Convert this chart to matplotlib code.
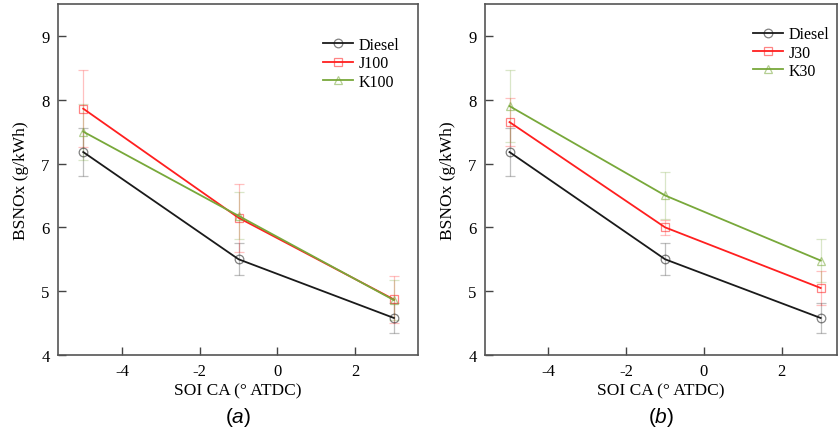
import matplotlib
matplotlib.use("Agg")
import matplotlib.pyplot as plt
import numpy as np
from matplotlib.colors import to_rgba

plt.rcParams['mathtext.fontset'] = 'custom'
plt.rcParams['mathtext.it'] = 'Liberation Sans:italic'
plt.rcParams['mathtext.rm'] = 'Liberation Sans'

soi = [-5, -1, 3]

# Panel (a)
diesel = [7.18, 5.50, 4.58]
diesel_err = [0.37, 0.25, 0.23]
j100 = [7.86, 6.15, 4.87]
j100_err = [0.60, 0.53, 0.37]
k100 = [7.50, 6.18, 4.86]
k100_err = [0.44, 0.37, 0.31]

# Panel (b)
j30 = [7.65, 6.00, 5.05]
j30_err = [0.37, 0.12, 0.27]
k30 = [7.90, 6.50, 5.48]
k30_err = [0.56, 0.37, 0.34]

yticks = [4, 5, 6, 7, 8, 9]
xticks = [-4, -2, 0, 2]

BLACK = '#1a1a1a'
RED = '#ff1f1f'
GREEN = '#78a83a'

W, H = 838, 435
fig = plt.figure(figsize=(W / 100, H / 100), dpi=100)

serif = 'Liberation Serif'


def panel(rect, series, xlim, leg_anchor, tag):
    ax = fig.add_axes(rect)
    for label, y, e, c, m in series:
        ax.errorbar(soi, y, yerr=e, fmt='none', ecolor=to_rgba(c, 0.28),
                    elinewidth=0.9, capsize=3.5, capthick=0.9, zorder=1)
        ax.plot(soi, y, color=c, lw=1.3, marker=m, ms=6.2, mfc='none',
                mec=to_rgba(c, 0.55), mew=0.9, label=label, zorder=3)
    ax.set_xlim(*xlim)
    ax.set_ylim(4, 9.5)
    ax.set_xticks(xticks)
    ax.set_yticks(yticks)
    ax.set_xticklabels([str(t) for t in xticks], family=serif, fontsize=12)
    ax.set_yticklabels([str(t) for t in yticks], family=serif, fontsize=12)
    ax.tick_params(direction='in', length=6, width=1.0, color='#444444',
                   top=False, right=False, pad=6)
    for s in ax.spines.values():
        s.set_color('#555555')
        s.set_linewidth(1.2)
    ax.set_xlabel('SOI CA (° ATDC)', family=serif, fontsize=12.5, labelpad=2)
    ax.set_ylabel('BSNOx (g/kWh)', family=serif, fontsize=12.5, labelpad=9)
    ax.legend(loc='upper left', bbox_to_anchor=leg_anchor, frameon=False,
              prop={'family': serif, 'size': 11.5}, handlelength=1.9,
              handletextpad=0.35, labelspacing=0.15, borderpad=0,
              borderaxespad=0)
    x0 = rect[0] + rect[2] / 2
    fig.text(x0, 0.04, r'(' + '$\\it{' + tag + '}$' + ')', ha='center', va='center',
             family='Liberation Sans', fontsize=15)
    return ax


axa = panel([58 / W, 79 / H, 360 / W, 351 / H],
            [('Diesel', diesel, diesel_err, BLACK, 'o'),
             ('J100', j100, j100_err, RED, 's'),
             ('K100', k100, k100_err, GREEN, '^')],
            (-5.65, 3.62), (0.736, 0.906), 'a')

axb = panel([485 / W, 79 / H, 352 / W, 351 / H],
            [('Diesel', diesel, diesel_err, BLACK, 'o'),
             ('J30', j30, j30_err, RED, 's'),
             ('K30', k30, k30_err, GREEN, '^')],
            (-5.63, 3.42), (0.761, 0.937), 'b')

fig.savefig('out.png', dpi=100)
